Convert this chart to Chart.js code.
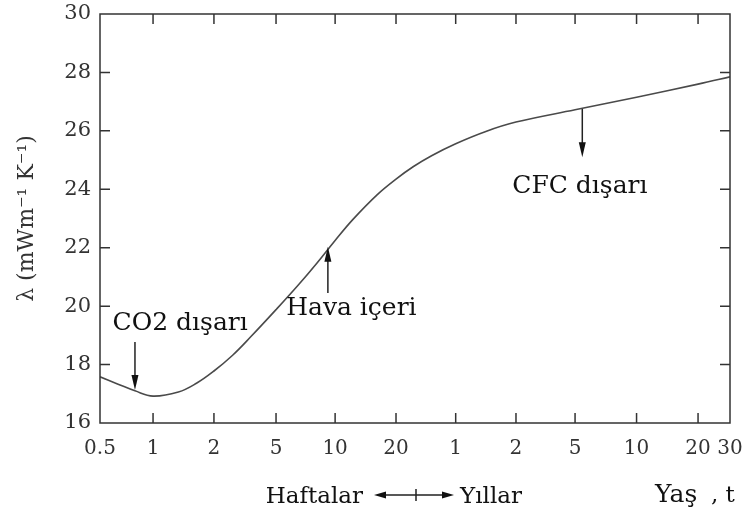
<!DOCTYPE html>
<html><head><meta charset="utf-8">
<script src="https://cdn.jsdelivr.net/npm/chart.js@4"></script>
<style>html,body{margin:0;padding:0;background:#fff;overflow:hidden}#wrap{width:747px;height:513px;position:relative}</style>
</head><body><div id="wrap"><canvas id="c" width="747" height="513"></canvas></div>
<script>
// X axis: tick labels (weeks then years) and their axis positions
const xTickLabels = ['0.5','1','2','5','10','20','1','2','5','10','20','30'];
const xTickPos = [0, 0.88, 1.89, 2.92, 3.9, 4.91, 5.9, 6.9, 7.88, 8.9, 9.92, 10.45];
const yTicks = [16, 18, 20, 22, 24, 26, 28, 30];
// Curve: thermal conductivity λ (mW m^-1 K^-1) vs age
const curveX = [0, 0.3, 0.58, 0.88, 1.3, 1.6, 1.89, 2.2, 2.5, 2.92, 3.3, 3.6, 3.9, 4.2, 4.6, 4.91, 5.2, 5.5, 5.9, 6.4, 6.9, 7.88, 8.9, 9.92, 10.45];
const curveY = [17.58, 17.33, 17.1, 16.92, 17.06, 17.36, 17.78, 18.32, 18.95, 19.88, 20.75, 21.48, 22.25, 22.98, 23.82, 24.35, 24.78, 25.15, 25.56, 25.98, 26.3, 26.72, 27.15, 27.6, 27.85];
// Annotations
const noteText = ['CO2 dışarı', 'Hava içeri', 'CFC dışarı'];
const noteX = [1.33, 4.17, 7.96];
const noteY = [19.18, 19.70, 23.87];
const arrowX = [0.58, 3.78, 8.0];
const arrowFrom = [18.77, 20.45, 26.75];
const arrowTo = [17.13, 22.03, 25.1];

const FONT = "'DejaVu Serif', serif";
const AXC = '#333';

function arrowHead(ctx, x, y, dir, len, half) {
  ctx.beginPath();
  ctx.moveTo(x, y);
  ctx.lineTo(x - half, y - dir * len);
  ctx.lineTo(x + half, y - dir * len);
  ctx.closePath();
  ctx.fill();
}
function hArrowHead(ctx, x, y, dir, len, half) {
  ctx.beginPath();
  ctx.moveTo(x, y);
  ctx.lineTo(x - dir * len, y - half);
  ctx.lineTo(x - dir * len, y + half);
  ctx.closePath();
  ctx.fill();
}

const decor = {
  id: 'decor',
  afterDraw(chart) {
    const ctx = chart.ctx, xs = chart.scales.x, ys = chart.scales.y, a = chart.chartArea;
    ctx.save();
    ctx.strokeStyle = AXC; ctx.lineWidth = 1.5;
    ctx.strokeRect(a.left, a.top, a.right - a.left, a.bottom - a.top);
    const TL = 10;
    ctx.beginPath();
    xTickPos.forEach(v => {
      const px = xs.getPixelForValue(v);
      if (px <= a.left + 1 || px >= a.right - 1) return;
      ctx.moveTo(px, a.bottom); ctx.lineTo(px, a.bottom - TL);
      ctx.moveTo(px, a.top); ctx.lineTo(px, a.top + TL);
    });
    yTicks.forEach(v => {
      const py = ys.getPixelForValue(v);
      if (py <= a.top + 1 || py >= a.bottom - 1) return;
      ctx.moveTo(a.left, py); ctx.lineTo(a.left + TL, py);
      ctx.moveTo(a.right, py); ctx.lineTo(a.right - TL, py);
    });
    ctx.stroke();
    ctx.fillStyle = '#111'; ctx.strokeStyle = '#222'; ctx.lineWidth = 1.5;
    ctx.font = '25px ' + FONT; ctx.textAlign = 'center'; ctx.textBaseline = 'alphabetic';
    noteText.forEach((t, i) => {
      ctx.fillText(t, xs.getPixelForValue(noteX[i]), ys.getPixelForValue(noteY[i]));
      const ax = xs.getPixelForValue(arrowX[i]);
      const y0 = ys.getPixelForValue(arrowFrom[i]), y1 = ys.getPixelForValue(arrowTo[i]);
      const dir = y1 > y0 ? 1 : -1;
      ctx.beginPath(); ctx.moveTo(ax, y0); ctx.lineTo(ax, y1 - dir * 12); ctx.stroke();
      arrowHead(ctx, ax, y1, dir, 15, 3.5);
    });
    ctx.font = '23px ' + FONT; ctx.textBaseline = 'alphabetic';
    ctx.textAlign = 'right'; ctx.fillText('Haftalar', 363, 503);
    ctx.textAlign = 'left'; ctx.fillText('Yıllar', 460, 503);
    ctx.font = '25px ' + FONT;
    ctx.fillText('Yaş', 655, 502);
    ctx.font = '23px ' + FONT;
    ctx.fillText(', t', 711, 502);
    ctx.beginPath(); ctx.moveTo(380, 495); ctx.lineTo(448, 495);
    ctx.moveTo(416, 489); ctx.lineTo(416, 501); ctx.stroke();
    hArrowHead(ctx, 374, 495, -1, 12, 3.5);
    hArrowHead(ctx, 454, 495, 1, 12, 3.5);
    ctx.restore();
  }
};

new Chart(document.getElementById('c'), {
  type: 'line',
  data: { datasets: [{
    data: curveX.map((x, i) => ({ x: x, y: curveY[i] })),
    borderColor: '#4a4a4a', borderWidth: 1.6, pointRadius: 0, fill: false,
    tension: 0.4
  }]},
  options: {
    responsive: false, animation: false, devicePixelRatio: 1,
    layout: { padding: { left: 0, right: 17, top: 14, bottom: 0 } },
    plugins: { legend: { display: false }, tooltip: { enabled: false } },
    scales: {
      x: {
        type: 'linear', min: 0, max: 10.45,
        grid: { display: false, drawTicks: false },
        border: { display: false },
        afterBuildTicks: s => { s.ticks = xTickPos.map(v => ({ value: v })); },
        afterFit: s => { s.height = 90; s.paddingLeft = 0; s.paddingRight = 0; },
        ticks: { autoSkip: false, maxRotation: 0, padding: 14, color: AXC,
          font: { family: FONT, size: 20 },
          callback: (v, i) => xTickLabels[i] }
      },
      y: {
        min: 16, max: 30,
        grid: { display: false, drawTicks: false },
        border: { display: false },
        afterBuildTicks: s => { s.ticks = yTicks.map(v => ({ value: v })); },
        afterFit: s => { s.width = 100; s.paddingTop = 0; s.paddingBottom = 0; },
        ticks: { padding: 9, color: AXC, font: { family: FONT, size: 21 } },
        title: { display: true, text: 'λ (mWm⁻¹ K⁻¹)', color: AXC,
          font: { family: FONT, size: 22 }, padding: { top: 14, bottom: 0 } }
      }
    }
  },
  plugins: [decor]
});
</script></body></html>
